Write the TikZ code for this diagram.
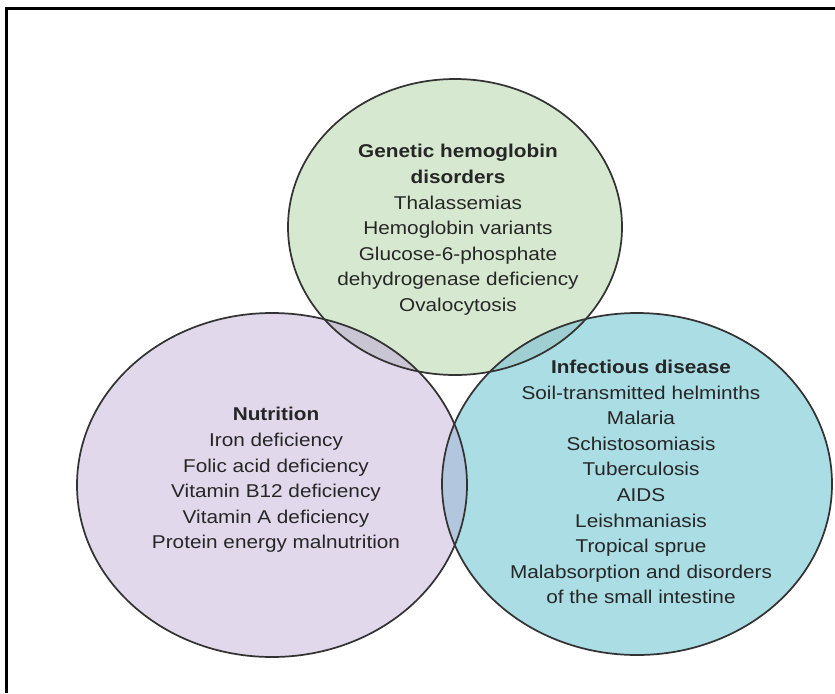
\documentclass[tikz,border=0pt]{standalone}
\usepackage{fontspec}
\setmainfont{Liberation Sans}[FakeStretch=1.12]
\usetikzlibrary{shapes.geometric}
\definecolor{gfill}{HTML}{D6E9D0}
\definecolor{pfill}{HTML}{E1D9EB}
\definecolor{cfill}{HTML}{AADDE4}
\definecolor{gpfill}{HTML}{C9C5D2}
\definecolor{gcfill}{HTML}{9FCFD3}
\definecolor{pcfill}{HTML}{B2C6DD}
\definecolor{edge}{HTML}{333333}
\definecolor{txt}{HTML}{262626}
\tikzset{
  setcirc/.style={ellipse, inner sep=0pt, outer sep=0pt},
  setedge/.style={draw=edge, line width=1.3pt},
  label/.style={align=center, text=txt, font=\fontsize{13.9}{19.2}\selectfont, inner sep=0pt},
  frame/.style={line width=2.3pt, black}
}
\begin{document}
\begin{tikzpicture}[x=0.75pt,y=-0.75pt]
\useasboundingbox (0,0) rectangle (835,693);
% frame (top and left)
\coordinate (fr1) at (835,8.5);
\coordinate (fr2) at (6.2,8.5);
\coordinate (fr3) at (6.2,693);
\draw[frame] (fr1) -- (fr2) -- (fr3);
% fills
\path[fill=gfill] (455,227) ellipse [x radius=125.25pt, y radius=111pt];
\path[fill=pfill] (272,485) ellipse [x radius=146.25pt, y radius=129pt];
\path[fill=cfill] (637,484) ellipse [x radius=146.25pt, y radius=128.25pt];
% overlaps
\begin{scope}
  \clip (272,485) ellipse [x radius=146.25pt, y radius=129pt];
  \path[fill=gpfill] (455,227) ellipse [x radius=125.25pt, y radius=111pt];
\end{scope}
\begin{scope}
  \clip (637,484) ellipse [x radius=146.25pt, y radius=128.25pt];
  \path[fill=gcfill] (455,227) ellipse [x radius=125.25pt, y radius=111pt];
\end{scope}
\begin{scope}
  \clip (637,484) ellipse [x radius=146.25pt, y radius=128.25pt];
  \path[fill=pcfill] (272,485) ellipse [x radius=146.25pt, y radius=129pt];
\end{scope}
% outlines as named nodes
\node[setcirc, setedge, minimum width=250.5pt, minimum height=222pt] (genetic) at (455,227) {};
\node[setcirc, setedge, minimum width=292.5pt, minimum height=258pt] (nutrition) at (272,485) {};
\node[setcirc, setedge, minimum width=292.5pt, minimum height=256.5pt] (infect) at (637,484) {};
% texts
\node[label] (gtext) at (458,230) {\textbf{Genetic hemoglobin}\\\textbf{disorders}\\Thalassemias\\Hemoglobin variants\\Glucose-6-phosphate\\dehydrogenase deficiency\\Ovalocytosis};
\node[label] (ntext) at (276,480) {\textbf{Nutrition}\\Iron deficiency\\Folic acid deficiency\\Vitamin B12 deficiency\\Vitamin A deficiency\\Protein energy malnutrition};
\node[label] (itext) at (641,482) {\textbf{Infectious disease}\\Soil-transmitted helminths\\Malaria\\Schistosomiasis\\Tuberculosis\\AIDS\\Leishmaniasis\\Tropical sprue\\Malabsorption and disorders\\of the small intestine};
\end{tikzpicture}
\end{document}
